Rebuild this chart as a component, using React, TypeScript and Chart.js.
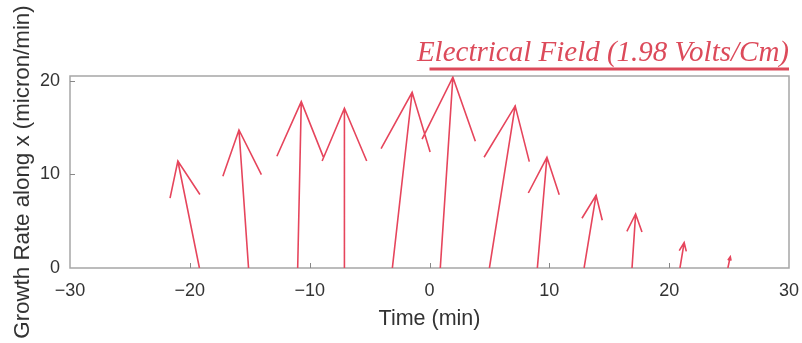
import { useEffect, useRef } from 'react';
import { Chart, registerables } from 'chart.js';

Chart.register(...registerables);

// Each growth vector starts on the time axis and ends at its tip
const tailTime = [-19.2, -15.1, -11.0, -7.1, -3.1, 0.9, 5.0, 9.0, 12.9, 16.9, 20.9, 24.9];
const tipTime = [-21.0, -15.9, -10.7, -7.1, -1.45, 1.95, 7.15, 9.8, 13.9, 17.2, 21.25, 25.1];
const tipRate = [11.44, 14.76, 17.79, 17.08, 18.79, 20.4, 17.33, 11.84, 7.78, 5.78, 2.71, 1.21];

const xTicks = [-30, -20, -10, 0, 10, 20, 30];
const yTicks = [0, 10, 20];
const xRange = [-30, 30];
const yRange = [0, 20.53];

const fieldLabel = 'Electrical Field (1.98 Volts/Cm)';
const fieldSpan = [0, 30];

const ARROW = '#e6455c';
const FIELD = '#dc4a5a';
const FRAME = '#a6a6a6';
const INK = '#333333';
const SANS = '"Liberation Sans", Arial, sans-serif';

// quiver-style arrowhead proportion
const HEAD = 0.33;

function arrowPath() {
  const pts: { x: number; y: number | null }[] = [];
  for (let i = 0; i < tailTime.length; i++) {
    const u = tipTime[i] - tailTime[i];
    const v = tipRate[i];
    const x1 = tipTime[i];
    const y1 = tipRate[i];
    pts.push({ x: tailTime[i], y: 0 }, { x: x1, y: y1 }, { x: x1, y: null });
    pts.push(
      { x: x1 - HEAD * (u + HEAD * v), y: y1 - HEAD * (v - HEAD * u) },
      { x: x1, y: y1 },
      { x: x1 - HEAD * (u - HEAD * v), y: y1 - HEAD * (v + HEAD * u) },
      { x: x1, y: null }
    );
  }
  return pts;
}

const minusLabel = (v: number | string) => {
  const n = Number(v);
  return n < 0 ? '\u2212' + Math.abs(n) : String(n);
};

const framePlugin = {
  id: 'frame',
  beforeDatasetsDraw(chart: any) {
    const { ctx, chartArea: a, scales } = chart;
    ctx.save();
    ctx.strokeStyle = FRAME;
    ctx.lineWidth = 1.5;
    ctx.strokeRect(a.left, a.top, a.right - a.left, a.bottom - a.top);
    ctx.strokeStyle = '#888888';
    ctx.lineWidth = 1;
    ctx.beginPath();
    for (const t of xTicks) {
      if (t === xRange[0] || t === xRange[1]) continue;
      const px = Math.round(scales.x.getPixelForValue(t)) + 0.5;
      ctx.moveTo(px, a.bottom);
      ctx.lineTo(px, a.bottom - 5);
    }
    for (const t of yTicks) {
      if (t === yRange[0]) continue;
      const py = Math.round(scales.y.getPixelForValue(t)) + 0.5;
      ctx.moveTo(a.left, py);
      ctx.lineTo(a.left + 5, py);
    }
    ctx.stroke();
    ctx.restore();
  },
  afterDraw(chart: any) {
    const { ctx, chartArea: a, scales } = chart;
    const x0 = scales.x.getPixelForValue(fieldSpan[0]);
    const x1 = scales.x.getPixelForValue(fieldSpan[1]);
    ctx.save();
    ctx.strokeStyle = FIELD;
    ctx.lineWidth = 3;
    ctx.beginPath();
    ctx.moveTo(x0, a.top - 7);
    ctx.lineTo(x1, a.top - 7);
    ctx.stroke();
    ctx.fillStyle = FIELD;
    ctx.font = 'italic 29px "Liberation Serif", "Times New Roman", serif';
    ctx.textAlign = 'right';
    ctx.textBaseline = 'alphabetic';
    ctx.fillText(fieldLabel, x1, a.top - 15);
    ctx.restore();
  },
};

export default function App() {
  const ref = useRef<HTMLCanvasElement | null>(null);

  useEffect(() => {
    if (!ref.current) return;
    const chart = new Chart(ref.current, {
      type: 'line',
      data: {
        datasets: [
          {
            data: arrowPath() as any,
            borderColor: ARROW,
            borderWidth: 1.6,
            pointRadius: 0,
            spanGaps: false,
            tension: 0,
            fill: false,
          },
        ],
      },
      options: {
        animation: false,
        responsive: false,
        devicePixelRatio: 1,
        layout: { padding: { top: 76, right: 13, left: 0, bottom: 0 } },
        plugins: { legend: { display: false }, tooltip: { enabled: false } },
        scales: {
          x: {
            type: 'linear',
            min: xRange[0],
            max: xRange[1],
            afterFit: (s: any) => {
              s.height = 75;
              s.paddingLeft = 0;
              s.paddingRight = 0;
            },
            afterBuildTicks: (s: any) => {
              s.ticks = xTicks.map((value) => ({ value }));
            },
            grid: { display: false, drawTicks: false, tickLength: 0 },
            border: { display: false },
            ticks: {
              color: INK,
              font: { family: SANS, size: 18 },
              padding: 12,
              maxRotation: 0,
              autoSkip: false,
              callback: minusLabel,
            },
            title: {
              display: true,
              text: 'Time (min)',
              color: INK,
              font: { family: SANS, size: 21.5 },
              padding: { top: 0, bottom: 11 },
            },
          },
          y: {
            type: 'linear',
            min: yRange[0],
            max: yRange[1],
            afterFit: (s: any) => {
              s.width = 70;
              s.paddingTop = 0;
              s.paddingBottom = 0;
            },
            afterBuildTicks: (s: any) => {
              s.ticks = yTicks.map((value) => ({ value }));
            },
            grid: { display: false, drawTicks: false, tickLength: 0 },
            border: { display: false },
            ticks: {
              color: INK,
              font: { family: SANS, size: 18 },
              padding: 10,
              autoSkip: false,
              callback: minusLabel,
            },
            title: {
              display: true,
              text: 'Growth Rate along x (micron/min)',
              color: INK,
              font: { family: SANS, size: 22.3 },
              padding: { top: 9, bottom: 0 },
            },
          },
        },
      },
      plugins: [framePlugin],
    });
    return () => chart.destroy();
  }, []);

  return (
    <div style={{ position: 'absolute', left: 0, top: 0, width: 802, height: 343, background: '#fff' }}>
      <canvas ref={ref} width={802} height={343} style={{ display: 'block', width: 802, height: 343 }} />
    </div>
  );
}
